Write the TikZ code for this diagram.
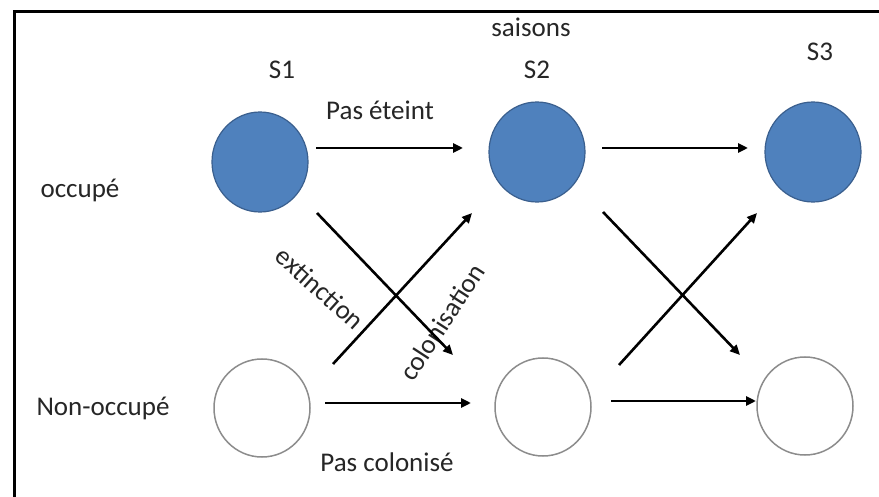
\documentclass[tikz,border=0pt]{standalone}
\usepackage{fontspec}
\setmainfont{Carlito}
\usetikzlibrary{shapes.geometric,calc,arrows.meta}
\definecolor{occblue}{HTML}{4F81BD}
\definecolor{occedge}{HTML}{3A5F8E}
\definecolor{emptyedge}{HTML}{8C8C8C}
\definecolor{txt}{HTML}{262626}
\begin{document}
\begin{tikzpicture}[x=1pt,y=-1pt,
  lab/.style={font=\fontsize{27}{30}\selectfont, text=txt, inner sep=0pt},
  occ/.style={ellipse, fill=occblue, draw=occedge, line width=1.2pt, minimum width=96pt, minimum height=100pt, inner sep=0pt},
  vide/.style={ellipse, fill=white, draw=emptyedge, line width=1.5pt, minimum width=96pt, minimum height=98pt, inner sep=0pt},
  arr/.style={line width=2.6pt, -{Triangle[length=10pt,width=9pt]}},
  frameline/.style={line width=3pt, black}]
\useasboundingbox (0,0) rectangle (879,497);
\fill[white] (0,0) rectangle (879,497);
% frame
\coordinate (fA) at (879,12);
\coordinate (fB) at (14,12);
\coordinate (fC) at (14,497);
\draw[frameline] (fA) -- (fB) -- (fC);
% states
\node[occ] (s1t) at (260,162) {};
\node[occ] (s2t) at (537,152) {};
\node[occ] (s3t) at (813,152) {};
\node[vide] (s1b) at (262,408) {};
\node[vide] (s2b) at (543,407) {};
\node[vide] (s3b) at (805,406) {};
% labels
\node[lab] (saisons) at (531,27) {saisons};
\node[lab] (S1) at (282,70) {S1};
\node[lab] (S2) at (537,70) {S2};
\node[lab] (S3) at (820,52) {S3};
\node[lab] (occupe) at (80,190) {occupé};
\node[lab] (nonocc) at (103,408) {Non-occupé};
\node[lab] (paset) at (380,110) {Pas éteint};
\node[lab] (pascol) at (387,462) {Pas colonisé};
\node[lab, rotate=-42] (ext) at (320,288) {extinction};
\node[lab, rotate=57] (col) at (442,322) {colonisation};
% arrows S1 -> S2
\draw[arr] ($(s1t)+(56,-14)$) -- ($(s2t)+(-74,-4)$);
\draw[arr] ($(s1b)+(63,-5)$) -- ($(s2b)+(-72,-4)$);
\draw[arr] ($(s1t)+(57,51)$) -- ($(s2b)+(-90,-52)$);
\draw[arr] ($(s1b)+(71,-44)$) -- ($(s2t)+(-65,61)$);
% arrows S2 -> S3
\draw[arr] ($(s2t)+(65,-4)$) -- ($(s3t)+(-65,-4)$);
\draw[arr] ($(s2b)+(68,-6)$) -- ($(s3b)+(-49,-5)$);
\draw[arr] ($(s2t)+(66,60)$) -- ($(s3b)+(-65,-51)$);
\draw[arr] ($(s2b)+(76,-42)$) -- ($(s3t)+(-56,61)$);
\end{tikzpicture}
\end{document}
